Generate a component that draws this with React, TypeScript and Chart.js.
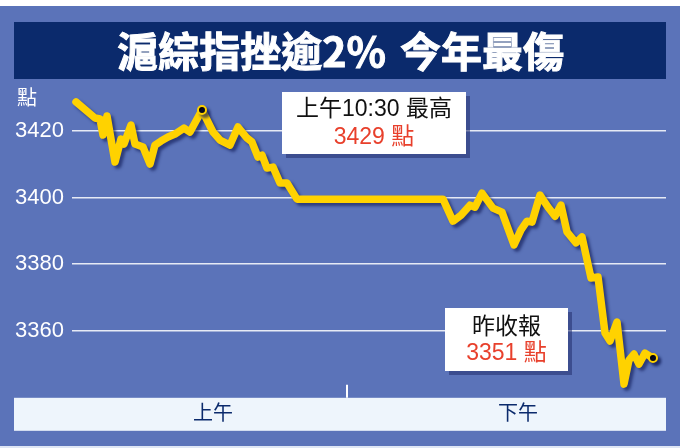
import React, { useEffect, useRef } from "react";
import { Chart, registerables } from "chart.js";

Chart.register(...registerables);

// ---- Data ----
const TITLE_LEFT = "滬綜指挫逾2%";
const TITLE_RIGHT = "今年最傷";
const UNIT_LABEL = "點";
const SESSION_LABELS = ["上午", "下午"];
// minutes on the session time axis (0 = open)
const SESSION_CENTERS = [68.5, 221];
const LUNCH_TICK = 135.5;
const MINUTES = [
  0, 9.5, 12, 13.5, 15.5, 19.5, 22.5, 24, 27.5, 29.5, 33.5, 37, 39.5, 42.5, 46,
  49.5, 54, 57, 63, 68.5, 72, 77, 81, 85.5, 88, 91, 93, 95.5, 98.5, 102, 105.5,
  110.5, 183.5, 188.5, 192.5, 197, 199.5, 203, 208.5, 213, 219, 222.5, 225.5,
  228, 232, 236, 239.5, 242.5, 245.5, 250, 253, 257.5, 261, 264.5, 267, 270.5,
  274, 276.5, 279, 281.5, 284.5, 288.5,
];
const INDEX_VALUES = [
  3428.6, 3423.8, 3423.5, 3418.7, 3424.4, 3410.6, 3417.5, 3416.0, 3421.7, 3416.0,
  3415.1, 3410.0, 3415.7, 3416.9, 3418.1, 3419.0, 3420.8, 3419.6, 3426.2, 3419.6,
  3417.2, 3415.7, 3421.1, 3417.8, 3416.6, 3412.1, 3412.7, 3408.8, 3409.1, 3404.3,
  3404.3, 3399.5, 3399.5, 3392.9, 3394.7, 3397.7, 3397.1, 3401.3, 3396.8, 3395.6,
  3385.8, 3390.3, 3392.9, 3392.6, 3400.7, 3397.1, 3394.4, 3397.7, 3389.7, 3386.4,
  3388.2, 3375.9, 3376.2, 3359.4, 3357.0, 3362.7, 3344.1, 3351.3, 3353.1, 3350.1,
  3353.4, 3351.9,
];
const MARKER_MINUTES = [63, 288.5];
const Y_TICK_VALUES = [3360, 3380, 3400, 3420];
const HIGH_NOTE = ["上午10:30 最高", "3429 點"];
const CLOSE_NOTE = ["昨收報", "3351 點"];

// ---- Styles ----
const BG_BLUE = "#5b73b9";
const NAVY = "#0b2a6c";
const LINE_GOLD = "#ffd200";
const NOTE_RED = "#e8402c";
const BAND_FILL = "#eef5fc";
const CJK = '"Noto Sans CJK TC", "Noto Sans CJK SC", sans-serif';
const LATIN = '"Liberation Sans", "Noto Sans CJK TC", sans-serif';

const backdropPlugin = {
  id: "backdrop",
  beforeDraw(chart: any) {
    const { ctx, width, height, chartArea } = chart;
    ctx.save();
    ctx.fillStyle = "#ffffff";
    ctx.fillRect(0, 0, width, height);
    ctx.fillStyle = BG_BLUE;
    ctx.fillRect(0, 6, width, height - 8);
    ctx.fillStyle = "#dfe6f5";
    ctx.fillRect(0, height - 2, width, 2);

    // title box
    ctx.fillStyle = NAVY;
    ctx.fillRect(14, 22, 652, 57);
    ctx.fillStyle = "#ffffff";
    ctx.strokeStyle = "#ffffff";
    ctx.lineWidth = 1;
    ctx.font = `bold 41px ${CJK}`;
    ctx.textBaseline = "middle";
    ctx.textAlign = "right";
    ctx.fillText(TITLE_LEFT, 386, 51);
    ctx.strokeText(TITLE_LEFT, 386, 51);
    ctx.textAlign = "left";
    ctx.fillText(TITLE_RIGHT, 400, 51);
    ctx.strokeText(TITLE_RIGHT, 400, 51);

    // unit label
    ctx.font = `20px ${CJK}`;
    ctx.textAlign = "left";
    ctx.fillText(UNIT_LABEL, 17, 97);

    // x band
    ctx.fillStyle = BAND_FILL;
    ctx.fillRect(14, chartArea.bottom, chartArea.right - 14, 33);

    // lunch tick
    const tx = chart.scales.x.getPixelForValue(LUNCH_TICK);
    ctx.strokeStyle = "#ffffff";
    ctx.lineWidth = 2;
    ctx.beginPath();
    ctx.moveTo(tx, chartArea.bottom - 13);
    ctx.lineTo(tx, chartArea.bottom);
    ctx.stroke();
    ctx.restore();
  },
  beforeDatasetsDraw(chart: any) {
    const ctx = chart.ctx;
    ctx.save();
    ctx.shadowColor = "rgba(20, 30, 90, 0.65)";
    ctx.shadowOffsetX = 3;
    ctx.shadowOffsetY = 3;
    ctx.shadowBlur = 3;
  },
  afterDatasetsDraw(chart: any) {
    chart.ctx.restore();
  },
  afterDraw(chart: any) {
    const ctx = chart.ctx;
    const drawNote = (x: number, y: number, w: number, h: number, lines: string[], cjkFirst: boolean) => {
      ctx.save();
      ctx.fillStyle = "rgba(35, 45, 110, 0.55)";
      ctx.fillRect(x + 4, y + 4, w, h);
      ctx.fillStyle = "#ffffff";
      ctx.fillRect(x, y, w, h);
      ctx.textAlign = "center";
      ctx.textBaseline = "middle";
      ctx.fillStyle = "#111111";
      ctx.font = `23px ${cjkFirst ? CJK : LATIN}`;
      ctx.fillText(lines[0], x + w / 2, y + h * 0.28);
      ctx.fillStyle = NOTE_RED;
      ctx.font = `23px ${LATIN}`;
      ctx.fillText(lines[1], x + w / 2, y + h * 0.73);
      ctx.restore();
    };
    drawNote(282, 92, 184, 62, HIGH_NOTE, false);
    drawNote(445, 308, 123, 63, CLOSE_NOTE, true);
  },
};

export default function App() {
  const ref = useRef<HTMLCanvasElement | null>(null);

  useEffect(() => {
    if (!ref.current) return;
    const points = MINUTES.map((m, i) => ({ x: m, y: INDEX_VALUES[i] }));
    const chart = new Chart(ref.current, {
      type: "line",
      data: {
        datasets: [
          {
            data: points,
            borderColor: LINE_GOLD,
            borderWidth: 7.5,
            borderCapStyle: "round",
            borderJoinStyle: "round",
            tension: 0,
            clip: false as any,
            pointRadius: (c: any) => (MARKER_MINUTES.includes(MINUTES[c.dataIndex]) ? 4 : 0),
            pointHoverRadius: 0,
            pointBackgroundColor: "#000000",
            pointBorderColor: LINE_GOLD,
            pointBorderWidth: 2,
          } as any,
        ],
      },
      options: {
        animation: false,
        responsive: false,
        devicePixelRatio: 1,
        layout: { padding: { top: 97.3, right: 14, left: 0, bottom: 0 } },
        plugins: { legend: { display: false }, tooltip: { enabled: false } },
        events: [],
        scales: {
          x: {
            type: "linear",
            min: -2,
            max: 295,
            grid: { display: false, drawTicks: false },
            border: { display: false },
            afterBuildTicks: (s: any) => {
              s.ticks = SESSION_CENTERS.map((v) => ({ value: v }));
            },
            afterFit: (s: any) => {
              s.height = 50.2;
            },
            ticks: {
              autoSkip: false,
              maxRotation: 0,
              padding: 3,
              color: NAVY,
              font: { size: 20, family: CJK },
              callback: (_v: any, i: number) => SESSION_LABELS[i],
            },
          },
          y: {
            type: "linear",
            min: 3340,
            max: 3430,
            afterFit: (s: any) => {
              s.width = 72;
            },
            afterBuildTicks: (s: any) => {
              s.ticks = Y_TICK_VALUES.map((v) => ({ value: v }));
            },
            border: { display: false },
            grid: {
              drawTicks: false,
              color: "rgba(255,255,255,0.85)",
              lineWidth: 1.5,
            },
            ticks: {
              padding: 8,
              color: "#ffffff",
              font: { size: 22, family: LATIN },
              callback: (v: any) => String(v),
            },
          },
        },
      },
      plugins: [backdropPlugin],
    });
    return () => chart.destroy();
  }, []);

  return (
    <div style={{ position: "fixed", left: 0, top: 0, width: 680, height: 448 }}>
      <canvas ref={ref} width={680} height={448} style={{ display: "block" }} />
    </div>
  );
}
